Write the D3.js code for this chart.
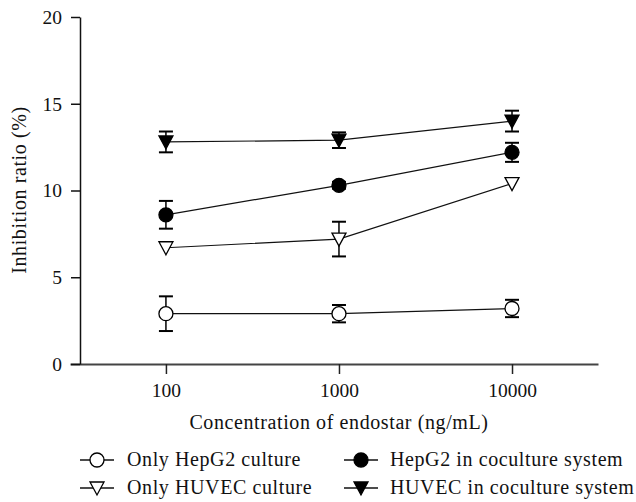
<!DOCTYPE html>
<html>
<head>
<meta charset="utf-8">
<script src="https://cdn.jsdelivr.net/npm/d3@7"></script>
<style>
  body { margin: 0; background: #fff; }
  svg text { font-family: "Liberation Serif", "DejaVu Serif", serif; fill: #111; }
</style>
</head>
<body>
<div id="chart"></div>
<script>
// concentrations of endostar (ng/mL)
var concentrations = [100, 1000, 10000];
var tickLabels = ["100", "1000", "10000"];
var yTicks = [0, 5, 10, 15, 20];

// series (mean inhibition ratio %, error)
var seriesNames = ["Only HepG2 culture", "Only HUVEC culture", "HepG2 in coculture system", "HUVEC in coculture system"];
var hepg2Only = [2.9, 2.9, 3.2];
var hepg2OnlyErr = [1.0, 0.5, 0.5];
var huvecOnly = [6.7, 7.2, 10.4];
var huvecOnlyErr = [0, 1.0, 0];
var hepg2Co = [8.6, 10.3, 12.2];
var hepg2CoErr = [0.8, 0.2, 0.55];
var huvecCo = [12.8, 12.9, 14.0];
var huvecCoErr = [0.6, 0.45, 0.6];

var series = [
    { name: seriesNames[0], values: hepg2Only, err: hepg2OnlyErr, shape: "circle", fill: "#fff" },
    { name: seriesNames[1], values: huvecOnly, err: huvecOnlyErr, shape: "tri", fill: "#fff" },
    { name: seriesNames[2], values: hepg2Co, err: hepg2CoErr, shape: "circle", fill: "#000" },
    { name: seriesNames[3], values: huvecCo, err: huvecCoErr, shape: "tri", fill: "#000" }
];

var width = 636, height = 502;

var svg = d3.select("#chart").append("svg")
    .attr("width", width)
    .attr("height", height);

// Scales
var x = d3.scaleLog()
    .domain([27.9, 31400])
    .range([70, 598]);

var y = d3.scaleLinear()
    .domain([0, 20])
    .range([364, 17]);

// Axes
var yAxis = d3.axisLeft(y).tickValues(yTicks).tickSize(9).tickPadding(9).tickSizeOuter(0);
var xAxis = d3.axisBottom(x).tickValues(concentrations).tickSize(10).tickPadding(9).tickSizeOuter(0)
    .tickFormat(function(d, i) { return tickLabels[i]; });

var gx = svg.append("g")
    .attr("transform", "translate(0,364)")
    .call(xAxis);
gx.select(".domain").attr("stroke", "#444").attr("stroke-width", 2);
gx.selectAll(".tick line").attr("stroke", "#222").attr("stroke-width", 1.5);
gx.selectAll("text").style("font-size", "19.5px").attr("fill", "#111");

var gy = svg.append("g")
    .attr("transform", "translate(80,0)")
    .call(yAxis);
gy.select(".domain").attr("stroke", "#111").attr("stroke-width", 1.5);
gy.selectAll(".tick line").attr("stroke", "#111").attr("stroke-width", 1.5);
gy.selectAll("text").style("font-size", "19.5px").attr("fill", "#111");

// Axis titles
svg.append("text")
    .attr("x", 339)
    .attr("y", 429)
    .attr("text-anchor", "middle")
    .style("font-size", "20px")
    .style("letter-spacing", "0.6px")
    .text("Concentration of endostar (ng/mL)");

svg.append("text")
    .attr("transform", "translate(26,190) rotate(-90)")
    .attr("text-anchor", "middle")
    .style("font-size", "20px")
    .style("letter-spacing", "0.6px")
    .text("Inhibition ratio (%)");

// Marker drawing
function drawMarker(g, shape, fill, cx, cy) {
    if (shape === "circle") {
        g.append("circle")
            .attr("cx", cx).attr("cy", cy).attr("r", 7)
            .attr("fill", fill).attr("stroke", "#000").attr("stroke-width", 1.3);
    } else {
        var s = 7;
        g.append("path")
            .attr("d", "M" + (cx - s) + "," + (cy - 6) + "L" + (cx + s) + "," + (cy - 6) + "L" + cx + "," + (cy + 7) + "Z")
            .attr("fill", fill).attr("stroke", "#000").attr("stroke-width", 1.3);
    }
}

var line = d3.line()
    .x(function(d, i) { return x(concentrations[i]); })
    .y(function(d) { return y(d); });

series.forEach(function(s) {
    var g = svg.append("g");

    g.append("path")
        .datum(s.values)
        .attr("d", line)
        .attr("fill", "none")
        .attr("stroke", "#111")
        .attr("stroke-width", 1.2);

    // error bars (skipped where hidden behind the marker)
    s.values.forEach(function(v, i) {
        if (!s.err[i]) return;
        var cx = x(concentrations[i]);
        var top = y(v + s.err[i]), bot = y(v - s.err[i]);
        g.append("line").attr("x1", cx).attr("x2", cx).attr("y1", top).attr("y2", bot)
            .attr("stroke", "#000").attr("stroke-width", 1.5);
        [top, bot].forEach(function(yy) {
            g.append("line").attr("x1", cx - 7).attr("x2", cx + 7).attr("y1", yy).attr("y2", yy)
                .attr("stroke", "#000").attr("stroke-width", 2);
        });
    });

    s.values.forEach(function(v, i) {
        drawMarker(g, s.shape, s.fill, x(concentrations[i]), y(v));
    });
});

// Legend
var legendPos = [
    { sx: 97, tx: 127, y: 460 },
    { sx: 97, tx: 127, y: 488 },
    { sx: 361, tx: 390, y: 460 },
    { sx: 361, tx: 390, y: 488 }
];

series.forEach(function(s, i) {
    var p = legendPos[i];
    var g = svg.append("g");
    g.append("line")
        .attr("x1", p.sx - 17).attr("x2", p.sx + 17)
        .attr("y1", p.y).attr("y2", p.y)
        .attr("stroke", "#111").attr("stroke-width", 1.3);
    drawMarker(g, s.shape, s.fill, p.sx, p.y);
    g.append("text")
        .attr("x", p.tx)
        .attr("y", p.y + 6)
        .style("font-size", "20px")
        .style("letter-spacing", "0.6px")
        .text(s.name);
});
</script>
</body>
</html>
